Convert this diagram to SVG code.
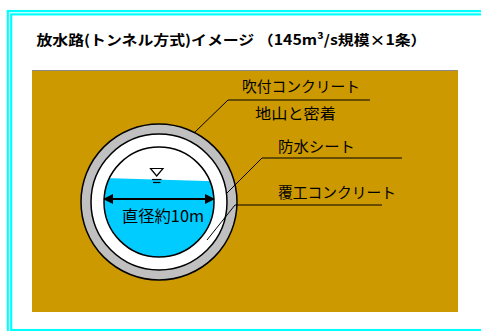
<svg xmlns="http://www.w3.org/2000/svg" width="481" height="331" viewBox="0 0 481 331">
  <style>
    .title { font-family: "Noto Sans CJK JP", "Liberation Sans", sans-serif; font-weight: bold; font-size: 14px; fill: #000; }
    .label { font-family: "Noto Sans CJK JP", "Liberation Sans", sans-serif; font-size: 15px; fill: #000; }
    .leader { fill: none; stroke: #000; stroke-width: 1; }
    .edge { stroke: #000; stroke-width: 1.5; }
  </style>
  <defs>
    <clipPath id="bore">
      <circle cx="159" cy="202" r="55"/>
    </clipPath>
    <marker id="tip" viewBox="0 0 10 10" refX="9" refY="5" markerWidth="5" markerHeight="5" orient="auto-start-reverse" markerUnits="strokeWidth">
      <path d="M0,0 L10,5 L0,10 z" fill="#000"/>
    </marker>
  </defs>

  <rect width="481" height="331" fill="#fff"/>

  <!-- page frame: double cyan rule -->
  <g id="frame">
    <rect x="9.5" y="12.7" width="490" height="319" fill="none" stroke="#00FFFF" stroke-width="5.5"/>
    <rect x="9.5" y="12.7" width="490" height="319" fill="none" stroke="#CCFFFF" stroke-width="1.3"/>
  </g>

  <text class="title" x="36.5" y="44.5" textLength="390" lengthAdjust="spacingAndGlyphs">放水路(トンネル方式)イメージ （145m³/s規模×1条）</text>

  <!-- surrounding ground -->
  <g id="ground">
    <rect x="32" y="70" width="426" height="242" fill="#CC9900"/>
    <line x1="32" y1="70.5" x2="457" y2="70.5" stroke="#8C8C8C" stroke-width="1.2"/>
  </g>

  <!-- tunnel cross-section -->
  <g id="tunnel">
    <circle id="shotcrete" cx="159" cy="202" r="78" fill="#C0C0C0" class="edge"/>
    <circle id="lining" cx="159" cy="202" r="68" fill="#fff" class="edge"/>
    <circle id="bore-fill" cx="159" cy="202" r="55" fill="#fff"/>
    <polygon id="water" points="100,178 220,181.5 220,262 100,262" fill="#00CCFF" clip-path="url(#bore)"/>
    <circle cx="159" cy="202" r="55" fill="none" class="edge"/>
  </g>

  <!-- water level symbol -->
  <g id="water-level">
    <polygon points="150.5,168.5 163,168.5 156.7,176" fill="#fff" stroke="#000" stroke-width="1.2"/>
    <line x1="152" y1="179.5" x2="161.5" y2="179.5" stroke="#000" stroke-width="1.2"/>
    <line x1="153" y1="182.5" x2="160.5" y2="182.5" stroke="#000" stroke-width="1.2"/>
  </g>

  <!-- diameter dimension -->
  <g id="diameter">
    <line x1="104" y1="199" x2="214" y2="199" stroke="#000" stroke-width="2" marker-start="url(#tip)" marker-end="url(#tip)"/>
    <text class="label" x="122" y="222" style="font-size:16px" textLength="82" lengthAdjust="spacingAndGlyphs">直径約10m</text>
  </g>

  <!-- leader lines -->
  <g id="connectors">
    <polyline class="leader" points="195,132 228,100 370,100"/>
    <polyline class="leader" points="227,193 262,158 402,158"/>
    <polyline class="leader" points="207,240 235,205 382,205"/>
  </g>

  <g id="label-shotcrete">
    <text class="label" x="242" y="92" textLength="118" lengthAdjust="spacingAndGlyphs">吹付コンクリート</text>
    <text class="label" x="255" y="119" textLength="81" lengthAdjust="spacingAndGlyphs">地山と密着</text>
  </g>
  <g id="label-sheet">
    <text class="label" x="278" y="152" textLength="77" lengthAdjust="spacingAndGlyphs">防水シート</text>
  </g>
  <g id="label-lining">
    <text class="label" x="278" y="198" textLength="118" lengthAdjust="spacingAndGlyphs">覆工コンクリート</text>
  </g>
</svg>
